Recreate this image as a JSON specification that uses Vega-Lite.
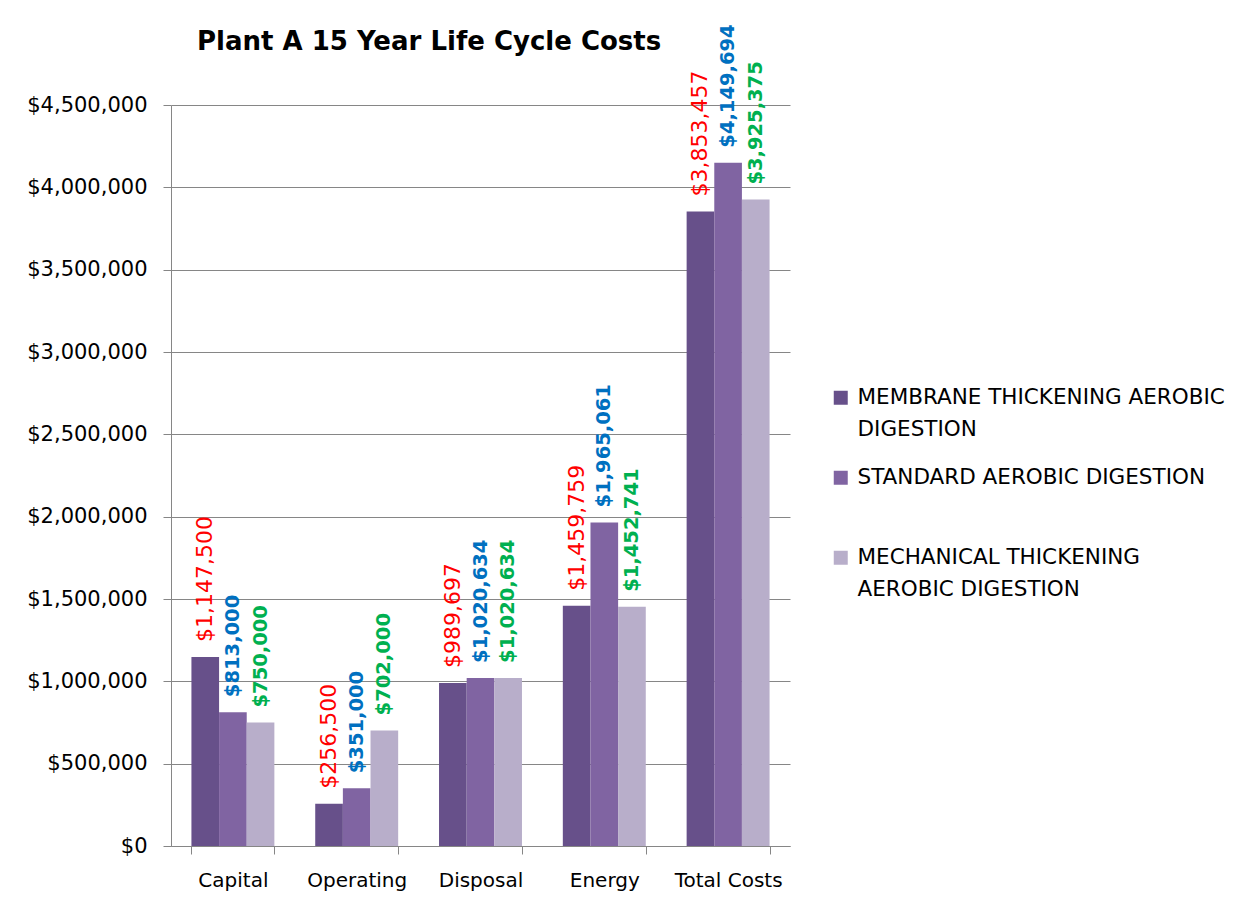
{
  "$schema": "https://vega.github.io/schema/vega-lite/v6.json",
  "width": 619,
  "height": 741,
  "autosize": "none",
  "padding": {"left": 171, "top": 105, "right": 463, "bottom": 61},
  "background": "white",
  "title": {
    "text": "Plant A 15 Year Life Cycle Costs",
    "anchor": "start",
    "frame": "group",
    "dx": 26,
    "offset": -31,
    "font": "DejaVu Sans",
    "fontSize": 26,
    "fontWeight": "bold",
    "color": "black"
  },
  "config": {
    "view": {"stroke": null},
    "font": "DejaVu Sans",
    "style": {"guide-label": {"lineHeight": 32}}
  },
  "data": {
    "values": [
      {"category": "Capital", "series": "MEMBRANE THICKENING AEROBIC DIGESTION", "value": 1147500},
      {"category": "Capital", "series": "STANDARD AEROBIC DIGESTION", "value": 813000},
      {"category": "Capital", "series": "MECHANICAL THICKENING AEROBIC DIGESTION", "value": 750000},
      {"category": "Operating", "series": "MEMBRANE THICKENING AEROBIC DIGESTION", "value": 256500},
      {"category": "Operating", "series": "STANDARD AEROBIC DIGESTION", "value": 351000},
      {"category": "Operating", "series": "MECHANICAL THICKENING AEROBIC DIGESTION", "value": 702000},
      {"category": "Disposal", "series": "MEMBRANE THICKENING AEROBIC DIGESTION", "value": 989697},
      {"category": "Disposal", "series": "STANDARD AEROBIC DIGESTION", "value": 1020634},
      {"category": "Disposal", "series": "MECHANICAL THICKENING AEROBIC DIGESTION", "value": 1020634},
      {"category": "Energy", "series": "MEMBRANE THICKENING AEROBIC DIGESTION", "value": 1459759},
      {"category": "Energy", "series": "STANDARD AEROBIC DIGESTION", "value": 1965061},
      {"category": "Energy", "series": "MECHANICAL THICKENING AEROBIC DIGESTION", "value": 1452741},
      {"category": "Total Costs", "series": "MEMBRANE THICKENING AEROBIC DIGESTION", "value": 3853457},
      {"category": "Total Costs", "series": "STANDARD AEROBIC DIGESTION", "value": 4149694},
      {"category": "Total Costs", "series": "MECHANICAL THICKENING AEROBIC DIGESTION", "value": 3925375}
    ]
  },
  "encoding": {
    "x": {
      "field": "category",
      "type": "nominal",
      "sort": ["Capital", "Operating", "Disposal", "Energy", "Total Costs"],
      "scale": {"paddingInner": 0.33, "paddingOuter": 0.165},
      "axis": {
        "title": null,
        "labelAngle": 0,
        "labelFontSize": 20,
        "labelColor": "black",
        "labelPadding": 16,
        "tickBand": "extent",
        "tickSize": 8,
        "tickColor": "#868686",
        "domainColor": "#868686",
        "grid": false
      }
    },
    "xOffset": {
      "field": "series",
      "type": "nominal",
      "scale": {"domain": ["MEMBRANE THICKENING AEROBIC DIGESTION", "STANDARD AEROBIC DIGESTION", "MECHANICAL THICKENING AEROBIC DIGESTION"], "paddingInner": 0, "paddingOuter": 0}
    },
    "y": {
      "field": "value",
      "type": "quantitative",
      "scale": {"domain": [0, 4500000], "nice": false},
      "axis": {
        "title": null,
        "values": [0, 500000, 1000000, 1500000, 2000000, 2500000, 3000000, 3500000, 4000000, 4500000],
        "format": "$,.0f",
        "labelFontSize": 21,
        "labelColor": "black",
        "labelPadding": 16,
        "tickSize": 8,
        "tickColor": "#868686",
        "domainColor": "#868686",
        "gridColor": "#868686",
        "gridOpacity": 1
      }
    }
  },
  "layer": [
    {
      "mark": {"type": "bar"},
      "encoding": {
        "color": {
          "field": "series",
          "type": "nominal",
          "scale": {
            "domain": ["MEMBRANE THICKENING AEROBIC DIGESTION", "STANDARD AEROBIC DIGESTION", "MECHANICAL THICKENING AEROBIC DIGESTION"],
            "range": ["#67508A", "#8064A2", "#B8AECA"]
          },
          "legend": {
            "title": null,
            "orient": "none",
            "legendX": 659,
            "legendY": 282,
            "symbolType": "square",
            "symbolSize": 196,
            "symbolStrokeWidth": 0,
            "labelFontSize": 21.5,
            "labelColor": "black",
            "labelOffset": 6,
            "labelLimit": 500,
            "rowPadding": 25,
            "labelExpr": "datum.label == 'MEMBRANE THICKENING AEROBIC DIGESTION' ? ['MEMBRANE THICKENING AEROBIC', 'DIGESTION'] : datum.label == 'STANDARD AEROBIC DIGESTION' ? ['STANDARD AEROBIC DIGESTION', ''] : ['MECHANICAL THICKENING', 'AEROBIC DIGESTION']"
          }
        }
      }
    },
    {
      "transform": [{"filter": "datum.series == 'MEMBRANE THICKENING AEROBIC DIGESTION'"}],
      "mark": {"type": "text", "angle": 270, "align": "left", "baseline": "middle", "dx": 15, "fontSize": 22, "color": "#FF0000"},
      "encoding": {"text": {"field": "value", "type": "quantitative", "format": "$,.0f"}}
    },
    {
      "transform": [{"filter": "datum.series != 'MEMBRANE THICKENING AEROBIC DIGESTION'"}],
      "mark": {"type": "text", "angle": 270, "align": "left", "baseline": "middle", "dx": 15, "fontSize": 19.5, "fontWeight": "bold"},
      "encoding": {
        "text": {"field": "value", "type": "quantitative", "format": "$,.0f"},
        "color": {"condition": {"test": "datum.series == 'STANDARD AEROBIC DIGESTION'", "value": "#0070C0"}, "value": "#00B050"}
      }
    }
  ]
}
